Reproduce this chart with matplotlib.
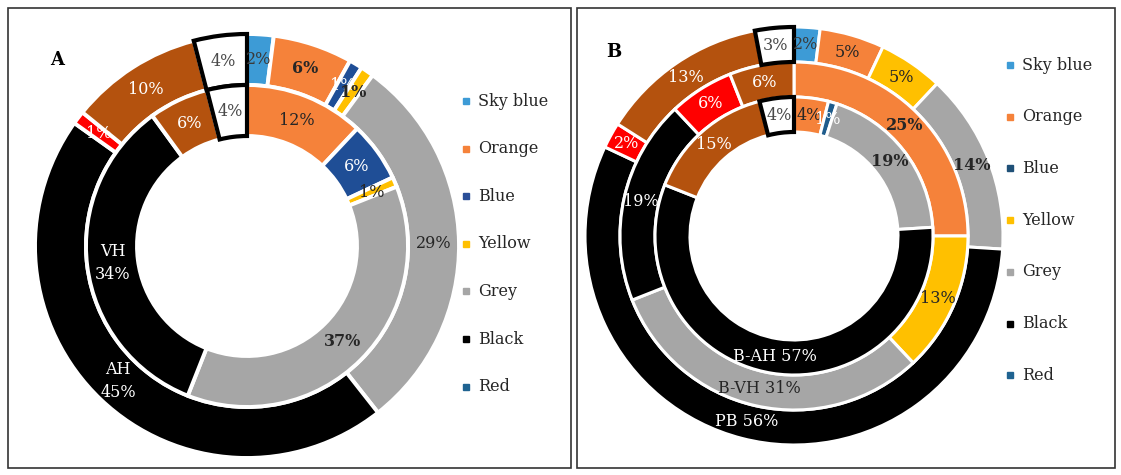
import matplotlib
matplotlib.use('Agg')
import matplotlib.pyplot as plt
from matplotlib.patches import Rectangle
import numpy as np

# ---------------- data ----------------
categories = ['Sky blue', 'Orange', 'Blue', 'Yellow', 'Grey', 'Black', 'Red', 'Brown', 'White']
legend_labels = ['Sky blue', 'Orange', 'Blue', 'Yellow', 'Grey', 'Black', 'Red']

# Panel A (outer ring = AH, inner ring = VH)
a_outer_AH = [2, 6, 1, 1, 29, 45, 1, 10, 4]
a_inner_VH = [0, 12, 6, 1, 37, 34, 0, 6, 4]

# Panel B (outer = PB, middle = B-VH, inner = B-AH)
b_outer_PB = [2, 5, 0, 5, 14, 56, 2, 13, 3]
b_middle_BVH = [0, 25, 0, 13, 31, 19, 6, 6, 0]
b_inner_BAH = [0, 4, 1, 0, 19, 57, 0, 15, 4]

# ---------------- style ----------------
colors_a = ['#3D9BD6', '#F5823A', '#1F4E96', '#FFC000', '#A6A6A6', '#000000', '#FF0000', '#B4520E', '#FFFFFF']
colors_b = ['#3D9BD6', '#F5823A', '#1F5C8C', '#FFC000', '#A6A6A6', '#000000', '#FF0000', '#B4520E', '#FFFFFF']
legend_colors_a = ['#3D9BD6', '#F5823A', '#2A4F98', '#FFC000', '#A6A6A6', '#000000', '#1F6391']
legend_colors_b = ['#3D9BD6', '#F5823A', '#1F5077', '#FFC000', '#A6A6A6', '#000000', '#1F6391']
label_colors = ['#3a3a3a', '#262626', 'white', '#262626', '#262626', 'white', 'white', 'white', '#4a4a4a']

FONT = 'DejaVu Serif'
W, H = 1121, 475

fig = plt.figure(figsize=(W / 100, H / 100), dpi=100)
ax = fig.add_axes([0, 0, 1, 1])


def ring(center, radius, width, values, colors, series, series_idx, sep, bold=(), gap=2.2):
    idx = [i for i, v in enumerate(values) if v > 0]
    vals = [values[i] for i in idx]
    cols = [colors[i] for i in idx]
    res = ax.pie(vals, radius=radius, center=center, colors=cols, startangle=90,
                 counterclock=False, normalize=True,
                 wedgeprops=dict(width=width, edgecolor='white', linewidth=gap))
    wedges = res[0]
    for w, i, v in zip(wedges, idx, vals):
        if categories[i] == 'White':
            w.set_edgecolor('black')
            w.set_linewidth(3)
            w.set_zorder(3)
        th = np.deg2rad((w.theta1 + w.theta2) / 2)
        r = radius - width / 2
        x = center[0] + r * np.cos(th)
        y = center[1] + r * np.sin(th)
        txt = f"{v}%"
        if i == series_idx:
            txt = series + sep + txt
        ax.text(x, y, txt, ha='center', va='center', color=label_colors[i],
                fontsize=11.5, family=FONT, zorder=6, linespacing=1.5,
                fontweight='bold' if i in bold else 'normal')


# Panel A
ca = (247, H - 246)
ring(ca, 212, 51, a_outer_AH, colors_a, 'AH', 5, '\n', bold=(1, 3), gap=2.8)
ring(ca, 161, 51, a_inner_VH, colors_a, 'VH', 5, '\n', bold=(4,), gap=2.8)

# Panel B
cb = (794, H - 236)
ring(cb, 209, 35, b_outer_PB, colors_b, 'PB', 5, ' ', bold=(4,))
ring(cb, 174, 35, b_middle_BVH, colors_b, 'B-VH', 4, ' ', bold=(1,))
ring(cb, 139, 35, b_inner_BAH, colors_b, 'B-AH', 5, ' ', bold=(4,))

# panel frames
ax.add_patch(Rectangle((8, H - 468), 563, 460, fill=False, edgecolor='#333333', lw=1.2, zorder=10))
ax.add_patch(Rectangle((577, H - 468), 538, 460, fill=False, edgecolor='#333333', lw=1.2, zorder=10))

# panel letters
ax.text(57, H - 60, 'A', fontsize=13, fontweight='bold', family=FONT, ha='center', va='center')
ax.text(614, H - 52, 'B', fontsize=13, fontweight='bold', family=FONT, ha='center', va='center')

# legends
for k, (lab, ca_col, cb_col) in enumerate(zip(legend_labels, legend_colors_a, legend_colors_b)):
    ya = H - (101 + 47.6 * k)
    ax.plot([466], [ya], marker='s', markersize=5, color=ca_col, linestyle='none')
    ax.text(478, ya, lab, fontsize=11.5, family=FONT, color='#262626', ha='left', va='center')
    yb = H - (65 + 51.7 * k)
    ax.plot([1010], [yb], marker='s', markersize=5, color=cb_col, linestyle='none')
    ax.text(1022, yb, lab, fontsize=11.5, family=FONT, color='#262626', ha='left', va='center')

ax.set_xlim(0, W)
ax.set_ylim(0, H)
ax.set_aspect('equal')
ax.axis('off')

fig.savefig('out.png', dpi=100)
